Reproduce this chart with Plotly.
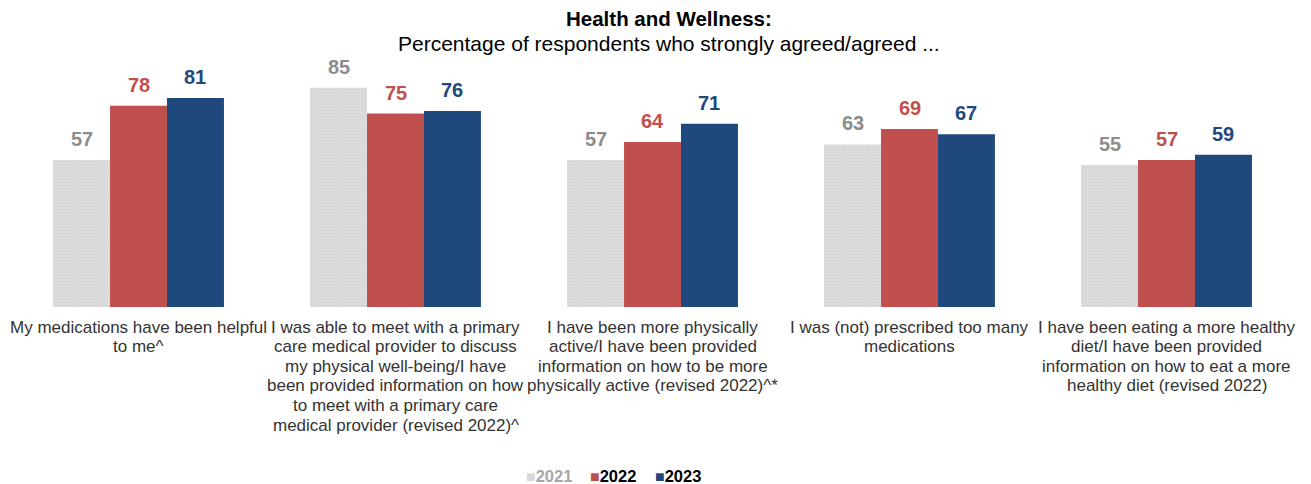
import plotly.graph_objects as go

# Category labels, one list of wrapped lines per category
category_lines = [
    ["My medications have been helpful", "to me^"],
    ["I was able to meet with a primary", "care medical provider to discuss",
     "my physical well-being/I have", "been provided information on how",
     "to meet with a primary care", "medical provider (revised 2022)^"],
    ["I have been more physically", "active/I have been provided",
     "information on how to be more", "physically active (revised 2022)^*"],
    ["I was (not) prescribed too many", "medications"],
    ["I have been eating a more healthy", "diet/I have been provided",
     "information on how to eat a more", "healthy diet (revised 2022)"],
]
years = ["2021", "2022", "2023"]
values_2021 = [57, 85, 57, 63, 55]
values_2022 = [78, 75, 64, 69, 57]
values_2023 = [81, 76, 71, 67, 59]

series = [values_2021, values_2022, values_2023]
bar_colors = ["#D9D9D9", "#C0504D", "#1F497D"]
label_colors = ["#8C8C8C", "#C0504D", "#1F497D"]
legend_text_colors = ["#A6A6A6", "#000000", "#000000"]

FONT = "Liberation Sans, Arial, sans-serif"
bargap = 0.335
n_cat = len(category_lines)
x_pos = list(range(n_cat))

# plot-area geometry (pixels) used to place text outside the axes
PLOT_TOP, PLOT_BOTTOM = 49, 307
PLOT_H = PLOT_BOTTOM - PLOT_TOP
PLOT_L, PLOT_R = 10, 1295
PLOT_W = PLOT_R - PLOT_L


def py(pixel_y):
    return (PLOT_BOTTOM - pixel_y) / PLOT_H


def px(pixel_x):
    return (pixel_x - PLOT_L) / PLOT_W


fig = go.Figure()
for i, (yr, vals) in enumerate(zip(years, series)):
    marker = dict(color=bar_colors[i], line=dict(width=0))
    if i == 0:
        marker["pattern"] = dict(shape=".", fgcolor="#CFCFCF", bgcolor="#DCDCDC",
                                 size=3, solidity=0.2, fillmode="replace")
    fig.add_trace(go.Bar(x=x_pos, y=vals, name=yr, marker=marker,
                         hoverinfo="skip", showlegend=False))

# value labels above each bar
bw = (1 - bargap) / len(series)
for i, vals in enumerate(series):
    off = (i - (len(series) - 1) / 2) * bw
    for c, v in enumerate(vals):
        fig.add_annotation(
            x=c + off, y=v, xref="x", yref="y", text=f"<b>{v}</b>",
            showarrow=False, yanchor="bottom", yshift=8,
            font=dict(family=FONT, size=20, color=label_colors[i]),
        )

# wrapped category labels under each group
for c, lines in enumerate(category_lines):
    for k, line in enumerate(lines):
        fig.add_annotation(
            x=c, y=0, xref="x", yref="y", text=line, showarrow=False,
            yanchor="middle", yshift=-(20 + k * 19.6),
            font=dict(family=FONT, size=17, color="#333333"),
        )

# title and subtitle
fig.add_annotation(x=px(669), y=py(18), xref="paper", yref="paper",
                   text="<b>Health and Wellness:</b>", showarrow=False,
                   yanchor="middle", font=dict(family=FONT, size=20.5, color="#000000"))
fig.add_annotation(x=px(669), y=py(44), xref="paper", yref="paper",
                   text="Percentage of respondents who strongly agreed/agreed ...",
                   showarrow=False, yanchor="middle",
                   font=dict(family=FONT, size=21, color="#000000"))

# legend row: one swatch + label per year, laid out left to right
legend_x = [524, 588, 653]
for yr, bc, tc, lx in zip(years, bar_colors, legend_text_colors, legend_x):
    fig.add_annotation(
        x=px(lx), y=py(476), xref="paper", yref="paper", xanchor="left",
        yanchor="middle", showarrow=False,
        text=(f"<span style='color:{bc};font-size:16px'>■</span>"
              f"<span style='color:{tc}'><b>{yr}</b></span>"),
        font=dict(family=FONT, size=16.5),
    )

fig.update_layout(
    width=1311, height=484,
    margin=dict(l=PLOT_L, r=1311 - PLOT_R, t=PLOT_TOP, b=484 - PLOT_BOTTOM,
                autoexpand=False),
    paper_bgcolor="white", plot_bgcolor="white",
    barmode="group", bargap=bargap, bargroupgap=0,
    font=dict(family=FONT, size=15, color="#333333"),
    xaxis=dict(range=[-0.5, n_cat - 0.5], visible=False),
    yaxis=dict(range=[0, 100], visible=False),
    showlegend=False,
)

fig.write_html("out.html")
